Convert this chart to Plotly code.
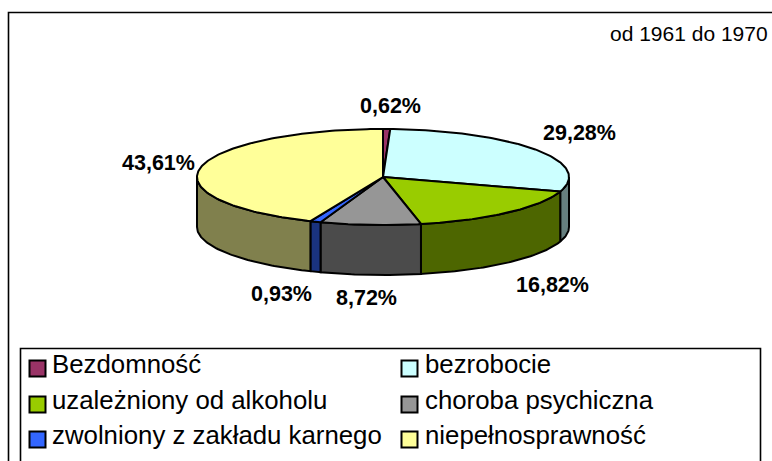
import numpy as np
import plotly.graph_objects as go

categories = ["Bezdomność", "bezrobocie", "uzależniony od alkoholu", "choroba psychiczna",
              "zwolniony z zakładu karnego", "niepełnosprawność"]
values = [0.62, 29.28, 16.82, 8.72, 0.93, 43.61]
value_labels = ["0,62%", "29,28%", "16,82%", "8,72%", "0,93%", "43,61%"]
top_colors = ["#993366", "#CCFFFF", "#99CC00", "#969696", "#3366FF", "#FFFF99"]
side_colors = ["#4D1A33", "#667F7F", "#4D6600", "#4B4B4B", "#1A337F", "#80804D"]
period_label = "od 1961 do 1970"

W, H = 772, 461
CX, CY, RX, RY, DEPTH = 383, 177, 186, 48, 50
LABEL_XY = [(390, 106), (579, 133), (552, 285), (366, 298), (281, 294), (158, 163)]

fig = go.Figure()

def add_poly(xs, ys, fill, lw=2):
    fig.add_trace(go.Scatter(x=xs, y=ys, mode="lines", fill="toself", fillcolor=fill,
                             line=dict(color="#000000", width=lw), hoverinfo="skip", showlegend=False))

def arc(a0, a1, dy=0):
    t = np.radians(np.linspace(a0, a1, max(2, int(abs(a1 - a0)) + 2)))
    return CX + RX * np.sin(t), CY + dy - RY * np.cos(t)

total = sum(values)
edges = np.concatenate([[0], np.cumsum(values) / total * 360])

# side walls: only the front half of the rim (90..270 degrees) is visible
for i in range(len(values)):
    a0, a1 = max(edges[i], 90), min(edges[i + 1], 270)
    if a1 <= a0:
        continue
    xt, yt = arc(a0, a1)
    xb, yb = arc(a1, a0, DEPTH)
    add_poly(np.r_[xt, xb, xt[0]], np.r_[yt, yb, yt[0]], side_colors[i])

# top face
for i in range(len(values)):
    xt, yt = arc(edges[i], edges[i + 1])
    add_poly(np.r_[CX, xt, CX], np.r_[CY, yt, CY], top_colors[i])

shapes = [
    dict(type="rect", xref="x", yref="y", x0=8.5, x1=790, y0=12.5, y1=480, line=dict(color="#000", width=1.6)),
    dict(type="rect", xref="x", yref="y", x0=20.5, x1=760.5, y0=348.5, y1=480, line=dict(color="#000", width=1.6)),
]
annotations = []
def text(x, y, s, size, bold=False, anchor="left"):
    annotations.append(dict(x=x, y=y, xref="x", yref="y", text=f"<b>{s}</b>" if bold else s, showarrow=False,
                            xanchor=anchor, yanchor="middle", font=dict(family="Liberation Sans", size=size, color="#000")))

text(770, 33, period_label, 21, anchor="right")
for (x, y), s in zip(LABEL_XY, value_labels):
    text(x, y, s, 21.5, bold=True, anchor="center")

LEG_X = [29.5, 401.5]
LEG_TEXT_X = [50, 423]
LEG_Y = [360.5, 396.5, 431.5]
for i, (cat, col) in enumerate(zip(categories, top_colors)):
    lx, ly = LEG_X[i % 2], LEG_Y[i // 2]
    shapes.append(dict(type="rect", xref="x", yref="y", x0=lx, x1=lx + 16, y0=ly, y1=ly + 16,
                       fillcolor=col, line=dict(color="#000", width=2)))
    text(LEG_TEXT_X[i % 2], ly + 3.5, cat, 25.8)

fig.update_layout(width=W, height=H, margin=dict(l=0, r=0, t=0, b=0), paper_bgcolor="#fff", plot_bgcolor="#fff",
                  xaxis=dict(range=[0, W], visible=False, fixedrange=True),
                  yaxis=dict(range=[H, 0], visible=False, fixedrange=True),
                  showlegend=False, shapes=shapes, annotations=annotations)
fig.write_html("out.html", config=dict(displayModeBar=False),
               post_script="document.body.style.margin='0';document.documentElement.style.overflow='hidden';")
